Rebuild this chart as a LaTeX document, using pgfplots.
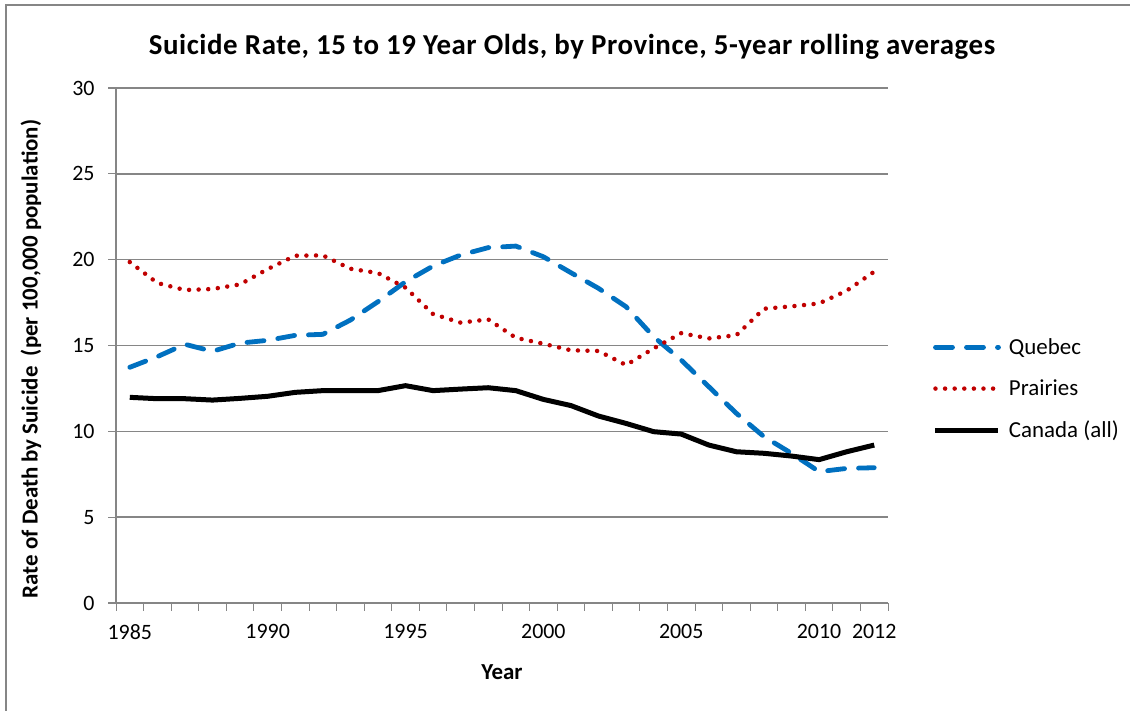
\documentclass[border=0pt]{standalone}
\usepackage{pgfplots}
\pgfplotsset{compat=1.18}
\usepackage{pgfplotstable}
\usepackage{fontspec}
\setmainfont{Carlito}
\definecolor{qblue}{RGB}{0,112,192}
\definecolor{pred}{RGB}{192,0,0}
\definecolor{axgray}{RGB}{134,134,134}

\pgfplotstableread{
year quebec prairies canada
1985 13.73 19.86 11.98
1986 14.35 18.64 11.90
1987 15.07 18.23 11.90
1988 14.66 18.29 11.82
1989 15.14 18.56 11.92
1990 15.30 19.45 12.04
1991 15.59 20.23 12.27
1992 15.65 20.25 12.37
1993 16.48 19.47 12.37
1994 17.55 19.22 12.37
1995 18.71 18.37 12.66
1996 19.63 16.83 12.37
1997 20.27 16.33 12.46
1998 20.70 16.52 12.54
1999 20.79 15.45 12.37
2000 20.17 15.10 11.86
2001 19.24 14.72 11.50
2002 18.33 14.68 10.89
2003 17.26 13.86 10.46
2004 15.51 14.83 9.98
2005 14.15 15.72 9.84
2006 12.60 15.41 9.20
2007 11.05 15.60 8.81
2008 9.69 17.14 8.72
2009 8.72 17.28 8.56
2010 7.65 17.45 8.35
2011 7.84 18.19 8.81
2012 7.88 19.30 9.20
}\ratedata

\newcommand{\tickfont}{\fontsize{22}{24}\selectfont}
\newcommand{\lblfont}{\fontsize{23}{26}\selectfont}

\begin{document}
\begin{tikzpicture}[x=1bp,y=1bp]
\useasboundingbox (0,0) rectangle (1130,711);
\draw[axgray, line width=1.2bp] (6,0) -- (6,706) -- (1130,706);

\begin{axis}[
  at={(116bp,108bp)}, anchor=south west,
  scale only axis, width=772bp, height=515bp,
  xmin=1984.5, xmax=2012.5, ymin=0, ymax=30,
  axis x line=bottom, axis y line=left,
  axis line style={-, axgray, line width=1.2bp},
  xtick={1985,1990,1995,2000,2005,2010,2012},
  minor xtick={1984.5,1985.5,...,2012.5},
  ytick={0,5,...,30},
  ymajorgrids, grid style={axgray, line width=1.4bp},
  tick align=outside,
  major x tick style={draw=none},
  minor x tick style={axgray, line width=1bp},
  major y tick style={axgray, line width=1.2bp},
  major tick length=8bp, minor tick length=8bp,
  /pgf/number format/1000 sep={},
  /pgf/number format/assume math mode=true,
  tick label style={font=\tickfont, text=black},
  xticklabel style={yshift=-10bp},
  yticklabel style={xshift=-10bp},
  legend style={at={(1.058,0.4155)}, anchor=west, draw=none, fill=none,
    font=\lblfont, row sep=18bp, inner sep=0pt,
    nodes={inner sep=3bp}},
  legend cell align=left,
  legend image code/.code={\draw[#1] (0bp,0bp) -- (63bp,0bp); \path (68bp,0bp);},
]
\addplot[qblue, line width=4.8bp, line cap=round, dash pattern=on 17bp off 14bp]
  table[x=year, y=quebec]{\ratedata};
\addplot[pred, line width=4.5bp, line cap=round, dash pattern=on 0bp off 9.6bp]
  table[x=year, y=prairies]{\ratedata};
\addplot[black, line width=5bp, line join=round]
  table[x=year, y=canada]{\ratedata};
\legend{Quebec, Prairies, Canada (all)}
\end{axis}

\node[font=\fontsize{29}{32}\selectfont\bfseries\addfontfeatures{LetterSpace=2}] at (572,664)
  {Suicide Rate, 15 to 19 Year Olds, by Province, 5-year rolling averages};
\node[font=\lblfont\bfseries] at (502,39) {Year};
\node[font=\lblfont\bfseries, rotate=90] at (31,352)
  {Rate of Death by Suicide \ (per 100,000 population)};
\end{tikzpicture}
\end{document}
